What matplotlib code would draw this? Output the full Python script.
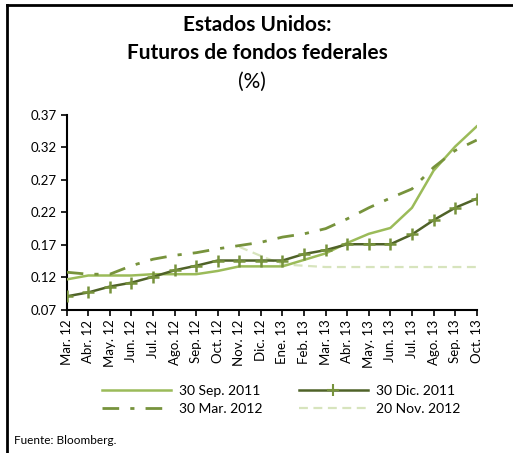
import matplotlib
matplotlib.use("Agg")
import matplotlib.pyplot as plt
from matplotlib.lines import Line2D
import numpy as np

plt.rcParams['font.family'] = ['Lato', 'DejaVu Sans']

months = ["Mar. 12", "Abr. 12", "May. 12", "Jun. 12", "Jul. 12", "Ago. 12", "Sep. 12",
          "Oct. 12", "Nov. 12", "Dic. 12", "Ene. 13", "Feb. 13", "Mar. 13", "Abr. 13",
          "May. 13", "Jun. 13", "Jul. 13", "Ago. 13", "Sep. 13", "Oct. 13"]

sep2011 = [0.117, 0.123, 0.123, 0.123, 0.125, 0.125, 0.125, 0.130, 0.137, 0.137,
           0.137, 0.147, 0.157, 0.173, 0.187, 0.196, 0.227, 0.284, 0.321, 0.352]
dic2011 = [0.091, 0.097, 0.106, 0.112, 0.121, 0.131, 0.138, 0.146, 0.146, 0.146,
           0.146, 0.156, 0.162, 0.171, 0.171, 0.171, 0.186, 0.208, 0.227, 0.241]
mar2012 = [0.128, 0.125, 0.125, 0.138, 0.148, 0.154, 0.158, 0.164, 0.169, 0.174,
           0.182, 0.187, 0.195, 0.210, 0.227, 0.242, 0.256, 0.289, 0.315, 0.331]
nov2012 = [None, None, None, None, None, None, None, None, 0.167, 0.153,
           0.140, 0.138, 0.136, 0.136, 0.136, 0.136, 0.136, 0.136, 0.136, 0.136]

yticks = [0.07, 0.12, 0.17, 0.22, 0.27, 0.32, 0.37]

W, H = 513, 453
fig = plt.figure(figsize=(W / 100, H / 100), dpi=100)

# frame border (top and left)
fig.add_artist(Line2D([7 / W, 7 / W], [0, 1 - 5 / H], transform=fig.transFigure, color='black', lw=2))
fig.add_artist(Line2D([7 / W, 1], [1 - 5 / H, 1 - 5 / H], transform=fig.transFigure, color='black', lw=2))

ax = fig.add_axes([66.7 / W, 1 - 310 / H, (476.7 - 66.7) / W, (310 - 114.7) / H])
x = np.arange(len(months))

c_light = '#9BBB59'
c_dark = '#4F6228'
c_mid = '#77933C'
c_pale = '#D7E4BD'

ls_dashdot = (0, (6, 4, 1.5, 4))
ls_dash = (0, (4, 2.5))

nov = np.array([np.nan if v is None else v for v in nov2012], dtype=float)

ax.plot(x, nov, color=c_pale, lw=1.6, ls=ls_dash, zorder=2)
ax.plot(x, sep2011, color=c_light, lw=1.8, zorder=3)
ax.plot(x, mar2012, color=c_mid, lw=2.0, ls=ls_dashdot, zorder=3)
ax.plot(x, dic2011, color=c_dark, lw=1.8, marker='+', ms=8, mew=1.8, mec=c_mid, zorder=4)

ax.set_xlim(0, len(months) - 1)
ax.set_ylim(0.07, 0.37)
ax.set_yticks(yticks)
ax.set_yticklabels([f"{v:.2f}" for v in yticks], fontsize=9.5)
ax.set_xticks(x)
ax.set_xticklabels(months, rotation=90, fontsize=9.5)
ax.tick_params(axis='both', direction='out', length=4, width=1.2, color='black', pad=3)
for s in ['top', 'right']:
    ax.spines[s].set_visible(False)
for s in ['left', 'bottom']:
    ax.spines[s].set_linewidth(1.5)
    ax.spines[s].set_color('black')

# column-major fill: col1 = Sep 2011, Mar 2012; col2 = Dic 2011, Nov 2012
leg_labels = ['30 Sep. 2011', '30 Mar. 2012', '30 Dic. 2011', '20 Nov. 2012']
leg_handles = [Line2D([], [], color=c_light, lw=1.8),
               Line2D([], [], color=c_mid, lw=2.0, ls=ls_dashdot),
               Line2D([], [], color=c_dark, lw=1.8, marker='+', ms=8, mew=1.5, mec=c_mid, markevery=[1]),
               Line2D([], [], color=c_pale, lw=1.6, ls=ls_dash)]
fig.legend(leg_handles, leg_labels, ncol=2, loc='center', bbox_to_anchor=(281 / W, 1 - 400 / H),
           frameon=False, fontsize=10, handlelength=5.0, columnspacing=2.6,
           handletextpad=0.55, labelspacing=0.4, borderpad=0.2)

fig.text(257 / W, 1 - 25 / H, "Estados Unidos:", ha='center', va='center', fontsize=15, fontweight='bold')
fig.text(257 / W, 1 - 53 / H, "Futuros de fondos federales", ha='center', va='center', fontsize=15, fontweight='bold')
fig.text(252 / W, 1 - 82 / H, "(%)", ha='center', va='center', fontsize=15)
fig.text(14 / W, 1 - 441 / H, "Fuente: Bloomberg.", ha='left', va='center', fontsize=8.5)

fig.savefig("out.png", dpi=100)
